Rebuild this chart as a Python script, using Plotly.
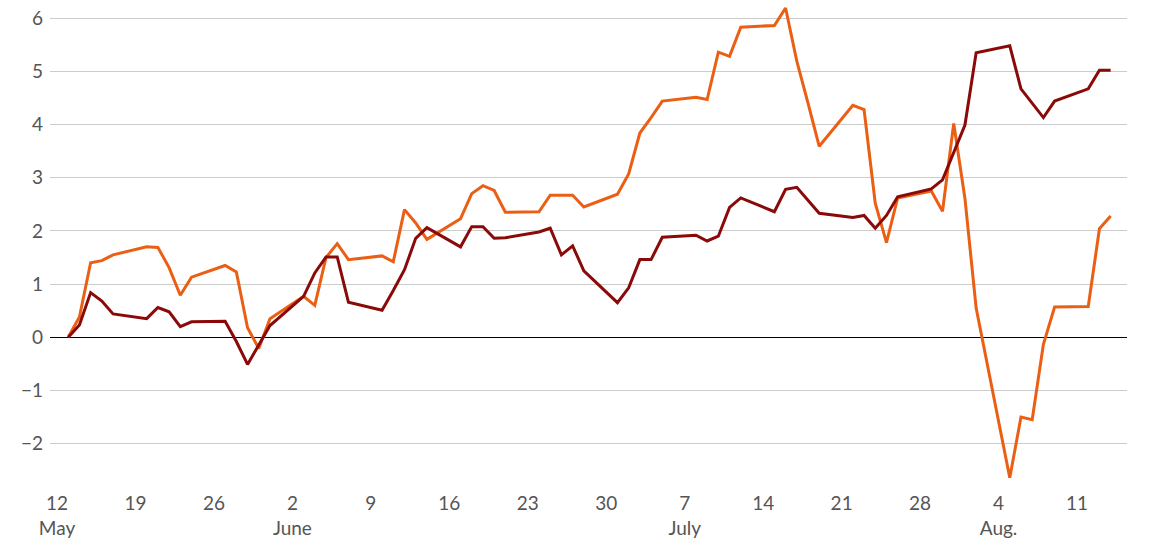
import pandas as pd
import plotly.graph_objects as go

dates = pd.bdate_range("2024-05-13", "2024-08-14")

orange_vals = [
    0.00, 0.38, 1.40, 1.44, 1.55,
    1.70, 1.69, 1.31, 0.79, 1.13,
    1.35, 1.23, 0.18, -0.21, 0.35,
    0.77, 0.60, 1.50, 1.76, 1.46,
    1.53, 1.42, 2.40, 2.15, 1.84,
    2.23, 2.70, 2.85, 2.76, 2.35,
    2.36, 2.67, 2.67, 2.67, 2.45,
    2.69, 3.07, 3.84, 4.13, 4.44,
    4.51, 4.47, 5.36, 5.28, 5.83,
    5.86, 6.19, 5.19, 4.40, 3.59,
    4.36, 4.28, 2.52, 1.78, 2.62,
    2.75, 2.37, 4.02, 2.61, 0.55,
    -2.64, -1.50, -1.55, -0.13, 0.57,
    0.58, 2.04, 2.28,
]

darkred_vals = [
    0.00, 0.23, 0.84, 0.68, 0.44,
    0.35, 0.56, 0.48, 0.20, 0.29,
    0.30, -0.08, -0.51, -0.15, 0.22,
    0.77, 1.21, 1.51, 1.51, 0.66,
    0.51, 0.88, 1.27, 1.86, 2.06,
    1.70, 2.08, 2.08, 1.86, 1.87,
    1.98, 2.05, 1.55, 1.72, 1.25,
    0.65, 0.93, 1.46, 1.46, 1.88,
    1.92, 1.81, 1.90, 2.44, 2.62,
    2.36, 2.78, 2.82, 2.57, 2.33,
    2.25, 2.29, 2.05, 2.29, 2.64,
    2.79, 2.96, 3.48, 3.99, 5.35,
    5.48, 4.67, 4.40, 4.13, 4.44,
    4.67, 5.02, 5.02,
]

x_tick_dates = ["2024-05-12", "2024-05-19", "2024-05-26", "2024-06-02", "2024-06-09",
                "2024-06-16", "2024-06-23", "2024-06-30", "2024-07-07", "2024-07-14",
                "2024-07-21", "2024-07-28", "2024-08-04", "2024-08-11"]
x_tick_labels = ["12<br>May", "19", "26", "2<br>June", "9", "16", "23", "30",
                 "7<br>July", "14", "21", "28", "4<br>Aug.", "11"]

y_tick_vals = [-2, -1, 0, 1, 2, 3, 4, 5, 6]
y_tick_labels = ["\u22122", "\u22121", "0", "1", "2", "3", "4", "5", "6"]

fig = go.Figure()
fig.add_trace(go.Scatter(x=dates, y=orange_vals, mode="lines",
                         line=dict(color="#ea5f14", width=3), showlegend=False))
fig.add_trace(go.Scatter(x=dates, y=darkred_vals, mode="lines",
                         line=dict(color="#8a0a0a", width=3), showlegend=False))

fig.update_layout(
    width=1171, height=553,
    margin=dict(l=50, r=44, t=0, b=71),
    paper_bgcolor="white", plot_bgcolor="white",
    font=dict(family="Lato", size=19, color="#555555"),
    xaxis=dict(
        range=["2024-05-11 09:00", "2024-08-15 11:00"],
        tickmode="array", tickvals=x_tick_dates, ticktext=x_tick_labels,
        showgrid=False, zeroline=False, showline=False, ticks="",
        ticklabelstandoff=8,
    ),
    yaxis=dict(
        range=[-2.72, 6.34],
        tickmode="array", tickvals=y_tick_vals, ticktext=y_tick_labels,
        showgrid=True, gridcolor="#cccccc", gridwidth=1,
        zeroline=True, zerolinecolor="#000000", zerolinewidth=1,
        showline=False, ticks="", ticklabelstandoff=6,
    ),
)

fig.write_html("out.html")
